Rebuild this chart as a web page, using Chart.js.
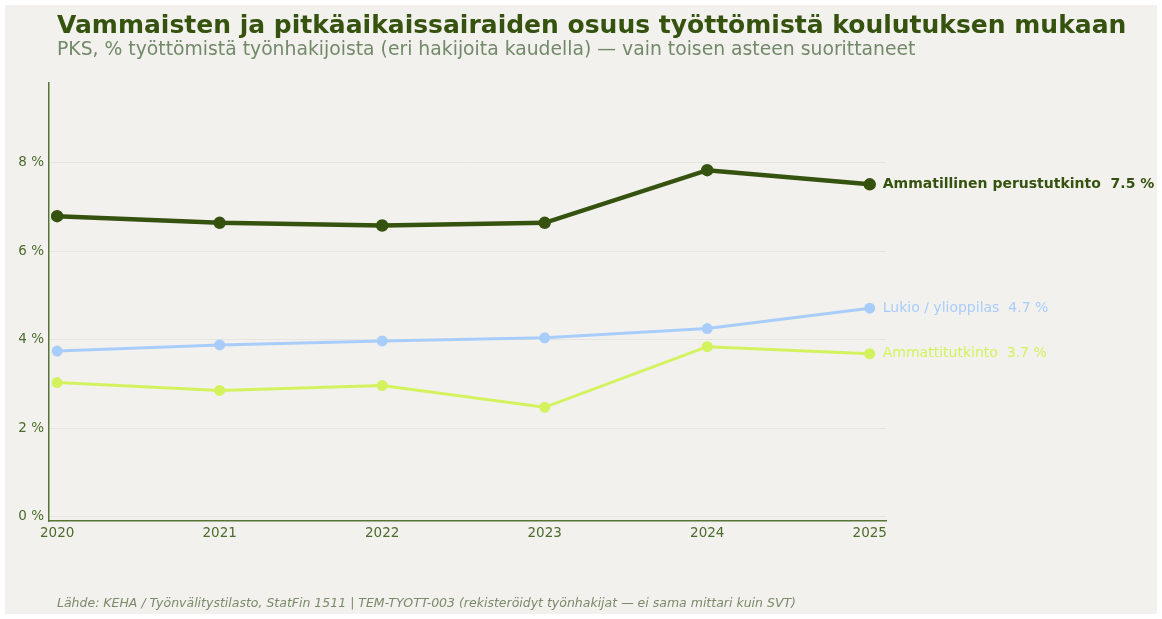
<!DOCTYPE html>
<html>
<head>
<meta charset="utf-8">
<script src="https://cdn.jsdelivr.net/npm/chart.js@4"></script>
<style>
  html, body { margin: 0; padding: 0; background: #ffffff; }
  #panel { position: absolute; left: 5px; top: 5px; width: 1152px; height: 609px; background: #f2f1ed; }
  #wrap { position: absolute; left: 0; top: 0; width: 1162px; height: 619px; }
  .txt { position: absolute; left: 57px; font-family: "DejaVu Sans", sans-serif; white-space: nowrap; }
  #title { top: 10px; font-size: 25px; font-weight: bold; color: #35530f; }
  #subtitle { top: 38px; font-size: 18.8px; color: #72896a; }
  #footer { top: 595px; font-size: 12.5px; font-style: italic; color: #7b8a6a; }
</style>
</head>
<body>
<div id="panel"></div>
<div id="wrap"><canvas id="LineChart" width="1162" height="619"></canvas></div>
<div class="txt" id="title">Vammaisten ja pitkäaikaissairaiden osuus työttömistä koulutuksen mukaan</div>
<div class="txt" id="subtitle">PKS, % työttömistä työnhakijoista (eri hakijoita kaudella) — vain toisen asteen suorittaneet</div>
<div class="txt" id="footer">Lähde: KEHA / Työnvälitystilasto, StatFin 1511 | TEM-TYOTT-003 (rekisteröidyt työnhakijat — ei sama mittari kuin SVT)</div>
<script>
var years = [2020, 2021, 2022, 2023, 2024, 2025];
var seriesNames = ["Ammatillinen perustutkinto", "Lukio / ylioppilas", "Ammattitutkinto"];
var ammatillinen = [6.79, 6.64, 6.58, 6.64, 7.83, 7.51];
var lukio = [3.74, 3.88, 3.97, 4.04, 4.25, 4.71];
var ammattitutkinto = [3.03, 2.85, 2.96, 2.47, 3.84, 3.68];
var yTicks = [0, 2, 4, 6, 8];

function pts(vals) {
  return years.map(function (yr, i) { return { x: yr, y: vals[i] }; });
}

// labels at the end of each line
var endLabels = {
  id: 'endLabels',
  afterDatasetsDraw: function (chart) {
    var ctx = chart.ctx;
    ctx.save();
    chart.data.datasets.forEach(function (ds, i) {
      var meta = chart.getDatasetMeta(i);
      var last = meta.data[meta.data.length - 1];
      var v = ds.data[ds.data.length - 1].y;
      ctx.font = (i === 0 ? 'bold ' : '') + '14px "DejaVu Sans"';
      ctx.fillStyle = ds.borderColor;
      ctx.textBaseline = 'middle';
      ctx.textAlign = 'left';
      ctx.fillText(ds.label + '  ' + v.toFixed(1) + ' %', last.x + 13, last.y);
    });
    ctx.restore();
  }
};

var ctx = document.getElementById("LineChart");
var LineChart = new Chart(ctx, {
  type: 'line',
  data: {
    datasets: [{
      label: seriesNames[0],
      data: pts(ammatillinen),
      borderColor: '#35530f',
      backgroundColor: '#35530f',
      borderWidth: 4.5,
      pointRadius: 4,
      pointHoverRadius: 4
    }, {
      label: seriesNames[1],
      data: pts(lukio),
      borderColor: '#a9cdfb',
      backgroundColor: '#a9cdfb',
      borderWidth: 3,
      pointRadius: 4,
      pointHoverRadius: 4
    }, {
      label: seriesNames[2],
      data: pts(ammattitutkinto),
      borderColor: '#d3f25e',
      backgroundColor: '#d3f25e',
      borderWidth: 3,
      pointRadius: 4,
      pointHoverRadius: 4
    }]
  },
  options: {
    responsive: false,
    animation: false,
    layout: {
      padding: { left: 19, top: 83, right: 276, bottom: 73 }
    },
    plugins: {
      legend: { display: false },
      tooltip: { enabled: false }
    },
    scales: {
      x: {
        type: 'linear',
        min: 2019.95,
        max: 2025.1,
        afterFit: function (s) { s.height = 25; },
        grid: { display: false, drawTicks: false },
        border: { color: '#557435', width: 1.5 },
        ticks: {
          stepSize: 1,
          includeBounds: false,
          padding: 4,
          color: '#4c6b2c',
          font: { family: 'DejaVu Sans', size: 13.5 },
          callback: function (v) { return String(v); }
        }
      },
      y: {
        min: -0.1,
        max: 9.8,
        afterFit: function (s) { s.width = 30; },
        afterBuildTicks: function (s) {
          s.ticks = yTicks.map(function (t) { return { value: t }; });
        },
        grid: { color: '#e5e4df', lineWidth: 1, drawTicks: false },
        border: { color: '#557435', width: 1.5 },
        ticks: {
          padding: 5,
          color: '#4c6b2c',
          font: { family: 'DejaVu Sans', size: 13.5 },
          callback: function (v) { return v + ' %'; }
        }
      }
    }
  },
  plugins: [endLabels]
});
</script>
</body>
</html>
